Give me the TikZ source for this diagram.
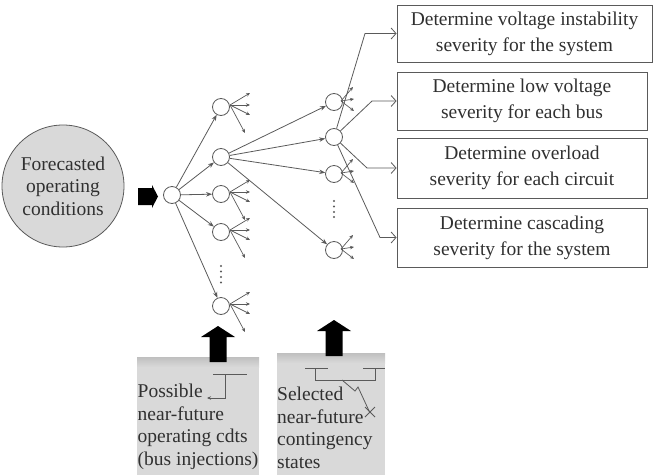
\documentclass[tikz,border=0pt]{standalone}
\usepackage{fontspec}
\setmainfont{Liberation Serif}
\usetikzlibrary{arrows.meta,calc}
\definecolor{ln}{HTML}{5A5A5A}
\definecolor{tx}{HTML}{303030}
\definecolor{fillg}{HTML}{D9D9D9}
\begin{document}
\begin{tikzpicture}[x=1pt,y=-1pt,
  txt/.style={text=tx,font=\fontsize{19.5}{22.5}\selectfont},
  boxtxt/.style={text=tx,font=\fontsize{19.5}{26}\selectfont},
  smallnode/.style={circle,draw=ln,line width=0.8pt,minimum width=16pt,minimum height=17pt,inner sep=0pt},
  resbox/.style={draw=ln,line width=0.8pt,align=center,boxtxt,inner sep=0pt},
  arr/.style={draw=ln,line width=0.8pt,-{Stealth[length=6pt,width=4.5pt]}},
  fanarr/.style={draw=ln,line width=0.7pt,-{Stealth[length=4pt,width=3.5pt]}},
  barb/.style={draw=ln,line width=0.8pt,-{Straight Barb[length=5pt,width=11pt]}},
  sym/.style={draw=ln,line width=0.8pt},
  blockarr/.style={fill=black,draw=none}]
\useasboundingbox (0,0) rectangle (658,474);
\clip (0,0) rectangle (658,474);

% big forecast circle
\node[circle,draw=ln,fill=fillg,line width=0.8pt,minimum size=122pt,inner sep=0pt,align=center,text=tx,font=\fontsize{19.5}{22.5}\selectfont] (fc) at (63,186) {Forecasted\\operating\\conditions};

% block arrow to root
\fill[blockarr] (138,188) -- (152,188) -- (152,185) -- (158,196.5) -- (152,208) -- (152,205) -- (138,205) -- cycle;

% root and level 1
\node[smallnode] (r) at (172,195) {};
\node[smallnode] (a1) at (221,107) {};
\node[smallnode] (a2) at (221,157) {};
\node[smallnode] (a3) at (221,194) {};
\node[smallnode] (a4) at (221,232) {};
\node[smallnode] (a5) at (221,306) {};
\foreach \yy in {266,271.5,277,282.5} \fill[ln] (221,\yy) circle (1.1);

\foreach \n in {a1,a2,a3,a4,a5} \draw[arr] (r) -- (\n);

% level 2
\node[smallnode] (b1) at (334,102) {};
\node[smallnode] (b2) at (334,137) {};
\node[smallnode] (b3) at (334,174) {};
\node[smallnode] (b4) at (334,250) {};
\foreach \yy in {201,206.5,212,217} \fill[ln] (334,\yy) circle (1.1);

\foreach \n in {b1,b2,b3,b4} \draw[arr] (a2) -- (\n);

% fans on level 1 nodes
\foreach \n in {a1,a3,a4,a5}{
  \coordinate (\n s) at ($(\n)+(9,-2)$);
  \coordinate (\n f1) at ($(\n)+(29,-14)$);
  \coordinate (\n f2) at ($(\n)+(29,-2)$);
  \coordinate (\n f3) at ($(\n)+(29,8)$);
  \coordinate (\n f4) at ($(\n)+(24,26)$);
  \foreach \k in {1,2,3,4} \draw[fanarr] (\n s) -- (\n f\k);
}
% fans on level 2 nodes
\foreach \n in {b1,b3,b4}{
  \coordinate (\n s) at ($(\n)+(7,-1)$);
  \coordinate (\n f1) at ($(\n)+(19,-15)$);
  \coordinate (\n f2) at ($(\n)+(20,-3)$);
  \coordinate (\n f3) at ($(\n)+(20,9)$);
  \foreach \k in {1,2,3} \draw[fanarr] (\n s) -- (\n f\k);
}

% result boxes
\node[resbox,minimum width=255pt,minimum height=57pt] (box1) at (524.5,33.5) {Determine voltage instability\\severity for the system};
\node[resbox,minimum width=250pt,minimum height=58pt] (box2) at (522,101) {Determine low voltage\\severity for each bus};
\node[resbox,minimum width=250pt,minimum height=60pt] (box3) at (522,168) {Determine overload\\severity for each circuit};
\node[resbox,minimum width=250pt,minimum height=59pt] (box4) at (522,237.5) {Determine cascading\\severity for the system};

\coordinate (c1) at (365,33.5);
\coordinate (c2) at (372,101);
\coordinate (c3) at (367,168);
\coordinate (c4) at (380,237.5);
\draw[barb] (b2) -- (c1) -- (box1.west);
\draw[barb] (b2) -- (c2) -- (box2.west);
\draw[barb] (b2) -- (c3) -- (box3.west);
\draw[barb] (b2) -- (c4) -- (box4.west);

% bottom grey panels
\fill[fillg] (137,357) rectangle (259,480);
\shade[top color=gray!50,bottom color=fillg] (137,357) rectangle (259,367);
\fill[fillg] (277,353) rectangle (385,480);
\shade[top color=gray!50,bottom color=fillg] (277,353) rectangle (385,363);

% up block arrows
\fill[blockarr] (209.5,362) -- (209.5,337) -- (201,337) -- (218,326) -- (235,337) -- (226.5,337) -- (226.5,362) -- cycle;
\fill[blockarr] (325.5,356) -- (325.5,331) -- (317,331) -- (334,320) -- (351,331) -- (342.5,331) -- (342.5,356) -- cycle;

% symbol in panel A
\draw[sym] (213,374) -- (247,374);
\draw[sym,-{Stealth[length=4pt,width=3.5pt]}] (225,374) -- (225,398) -- (207,398);

% symbol in panel B
\draw[sym] (305,368) -- (328,368);
\draw[sym] (363,368) -- (385,368);
\draw[sym] (315,368) -- (315,380) -- (375,380) -- (375,368);
\draw[sym] (342,380) -- (355,391) -- (358,387) -- (370,413);
\draw[sym] (365,407) -- (375,417);
\draw[sym] (375,407) -- (365,417);

% panel texts
\node[txt,anchor=west,align=left,inner sep=0pt] (ta) at (137.5,427) {Possible\\near-future\\operating cdts\\(bus injections)};
\node[txt,anchor=west,align=left,inner sep=0pt] (tb) at (277,428) {Selected\\near-future\\contingency\\states};
\end{tikzpicture}
\end{document}
